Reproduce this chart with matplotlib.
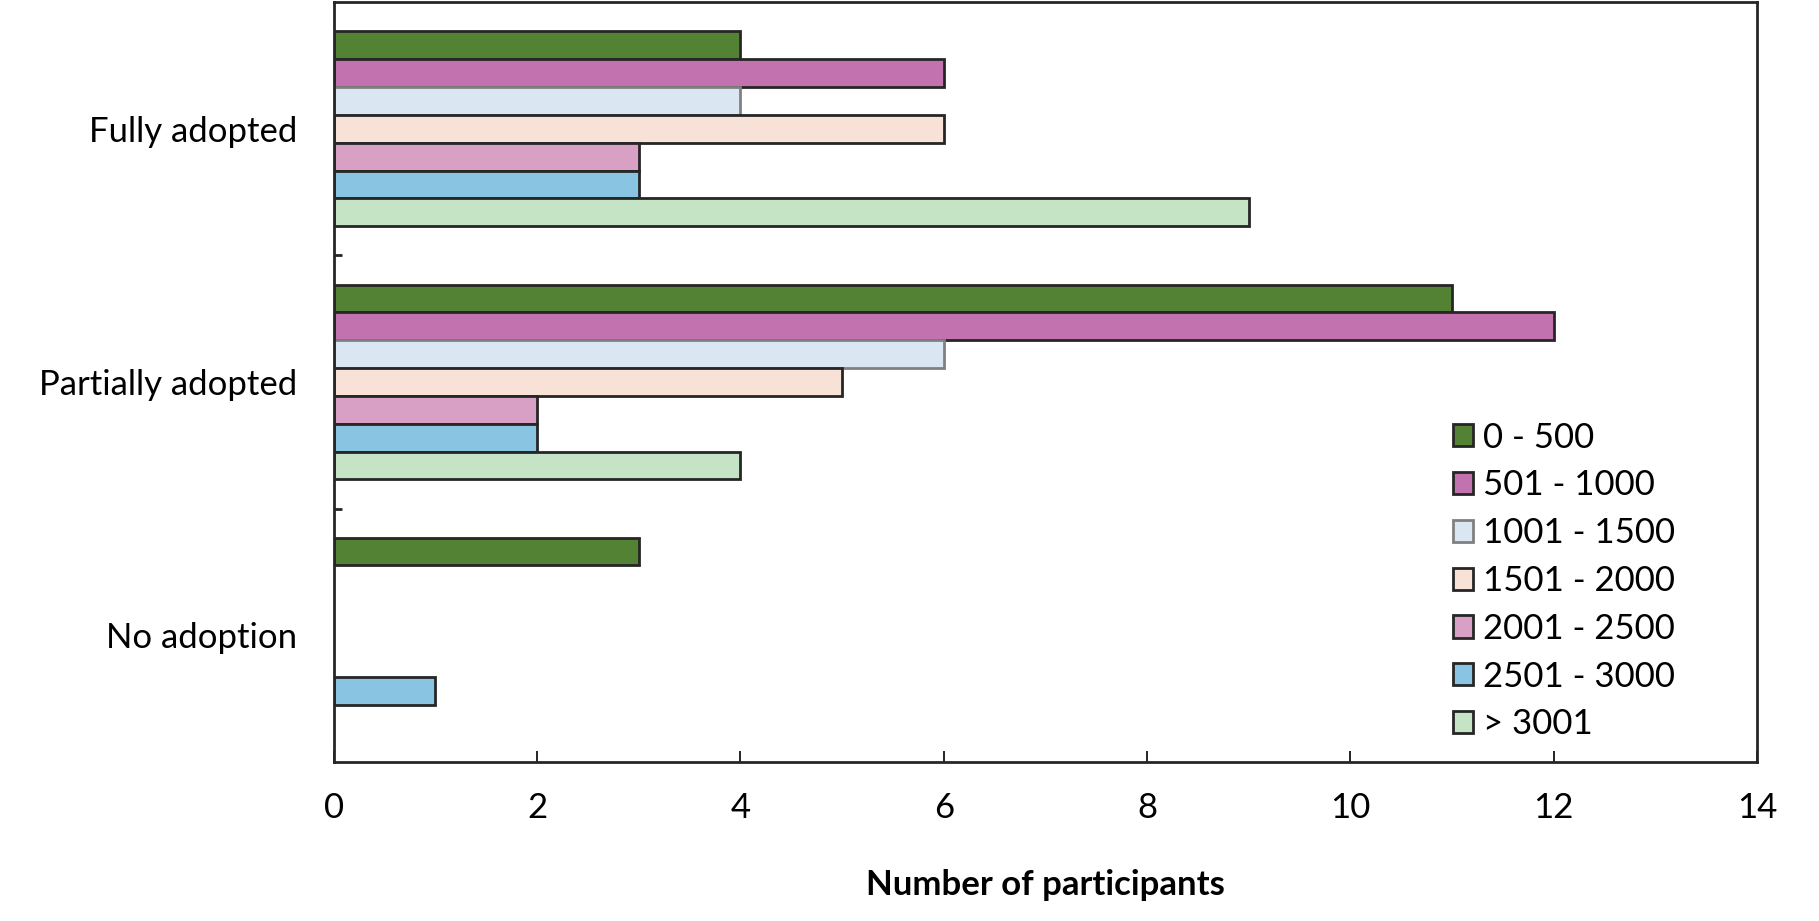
import matplotlib.pyplot as plt
import numpy as np

plt.rcParams['font.family'] = ['Lato', 'DejaVu Sans']

categories = ['Fully adopted', 'Partially adopted', 'No adoption']
groups = ['0 - 500', '501 - 1000', '1001 - 1500', '1501 - 2000',
          '2001 - 2500', '2501 - 3000', '> 3001']
values = [
    [4, 11, 3],   # 0 - 500
    [6, 12, 0],   # 501 - 1000
    [4, 6, 0],    # 1001 - 1500
    [6, 5, 0],    # 1501 - 2000
    [3, 2, 0],    # 2001 - 2500
    [3, 2, 1],    # 2501 - 3000
    [9, 4, 0],    # > 3001
]
colors = ['#548235', '#C272AE', '#DAE7F3', '#F8E1D6', '#D9A0C6', '#89C5E3', '#C5E3C5']
edges = ['#262626', '#262626', '#808080', '#262626', '#262626', '#262626', '#262626']

fig, ax = plt.subplots(figsize=(18.19, 9.21), dpi=100)
fig.subplots_adjust(left=0.1834, right=0.966, top=0.9975, bottom=0.173)

y = np.arange(len(categories))
n = len(groups)
h = 0.77 / n
for i in range(n):
    pos = y - 0.77 / 2 + h * (i + 0.5)
    vals = np.array(values[i], dtype=float)
    mask = vals > 0
    ax.barh(pos[mask], vals[mask], height=h, color=colors[i], edgecolor=edges[i],
            linewidth=2, label=groups[i])

ax.set_ylim(2.5, -0.5)
ax.set_xlim(0, 14)
ax.set_xticks(range(0, 15, 2))
ax.set_yticks(y)
ax.set_yticklabels(categories)
ax.set_yticks([0.5, 1.5], minor=True)
ax.tick_params(axis='y', which='major', length=0, pad=26, labelsize=25)
ax.tick_params(axis='y', which='minor', direction='in', length=6, width=2, color='#262626')
ax.tick_params(axis='x', direction='in', length=8, width=1.2, pad=22, labelsize=25)
for s in ax.spines.values():
    s.set_linewidth(2)
    s.set_color('#262626')

ax.set_xlabel('Number of participants', fontsize=25, fontweight='bold', labelpad=32)

ax.legend(loc='center left', bbox_to_anchor=(0.786, 0.238), frameon=False, fontsize=25,
          borderpad=0, borderaxespad=0,
          handlelength=0.6, handleheight=0.6, handletextpad=0.28, labelspacing=0.455)

plt.savefig('out.png')
